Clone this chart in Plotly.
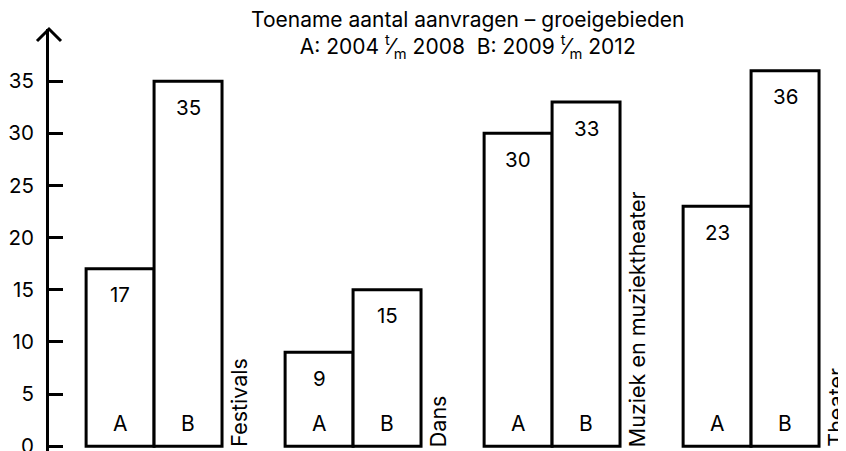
import plotly.graph_objects as go

categories = ["Festivals", "Dans", "Muziek en muziektheater", "Theater"]
series_names = ["A", "B"]
a_values = [17, 9, 30, 23]
b_values = [35, 15, 33, 36]
y_ticks = [0, 5, 10, 15, 20, 25, 30, 35]
title_lines = ["Toename aantal aanvragen – groeigebieden",
               "A: 2004 <sup>t</sup>⁄<sub>m</sub> 2008\u00a0\u00a0B: 2009 <sup>t</sup>⁄<sub>m</sub> 2012"]

FONT = "Inter"
FS_NUM = 20.5
FS_TXT = 21.5

fig = go.Figure()
for name, vals in zip(series_names, [a_values, b_values]):
    fig.add_trace(go.Bar(
        x=categories, y=vals, name=name,
        marker=dict(color="white", line=dict(color="black", width=3)),
        hoverinfo="skip", showlegend=False,
    ))

ann = []
half = 34
for i, cat in enumerate(categories):
    for name, vals, sh in zip(series_names, [a_values, b_values], [-half, half]):
        ann.append(dict(x=cat, y=vals[i], xref="x", yref="y", text=str(vals[i]),
                        showarrow=False, xshift=sh, yshift=-26, yanchor="middle",
                        font=dict(family=FONT, size=FS_NUM, color="black")))
        ann.append(dict(x=cat, y=0, xref="x", yref="y", text=name,
                        showarrow=False, xshift=sh, yshift=23, yanchor="middle",
                        font=dict(family=FONT, size=21, color="black")))
    ann.append(dict(x=cat, y=0, xref="x", yref="y", text=cat, textangle=-90,
                    showarrow=False, xshift=85, yshift=-3, yanchor="bottom",
                    xanchor="center",
                    font=dict(family=FONT, size=FS_TXT, color="black")))

ann.append(dict(x=0.5245, y=1, xref="paper", yref="paper", yanchor="middle",
                text="<br>".join(title_lines), showarrow=False,
                xanchor="center", align="center", yshift=-6,
                font=dict(family=FONT, size=21, color="black")))

fig.update_layout(
    width=838, height=469,
    margin=dict(l=41, r=0, t=21, b=10, autoexpand=False),
    paper_bgcolor="white", plot_bgcolor="white",
    barmode="group", bargap=0.317, bargroupgap=0,
    annotations=ann,
    shapes=[dict(type="path", xref="paper", yref="paper",
                 xsizemode="pixel", ysizemode="pixel", xanchor=0, yanchor=1,
                 path="M-12,-12 L0,0 L12,-12",
                 line=dict(color="black", width=3))],
    xaxis=dict(range=[-0.528, 3.477], showticklabels=False, showgrid=False,
               zeroline=False, showline=False, ticks="", automargin=False),
    yaxis=dict(range=[-2, 40], tickvals=y_ticks, ticks="inside", ticklen=14,
               tickwidth=3, tickcolor="black", showline=True, linewidth=3,
               linecolor="black", showgrid=False, zeroline=False,
               ticklabelstandoff=8, automargin=False,
               tickfont=dict(family=FONT, size=FS_NUM, color="black")),
)

fig.write_html("out.html")
